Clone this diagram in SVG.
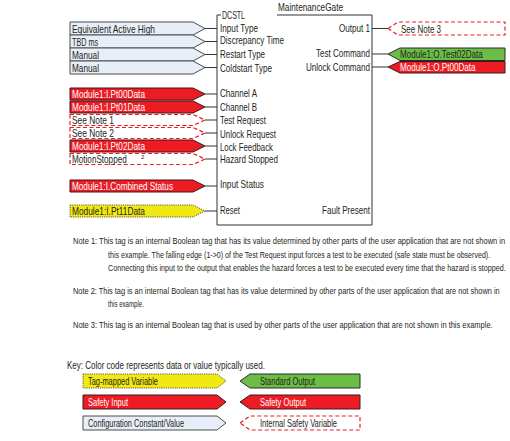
<svg xmlns="http://www.w3.org/2000/svg" width="510" height="441" viewBox="0 0 510 441">
<style>
text{font-family:"Liberation Sans",Arial,sans-serif;font-size:11px;fill:#231f20}
.w{fill:#fff}
.cfg{fill:#e8eef8;stroke:#4d4d4d;stroke-width:1}
.red{fill:#ed1c24;stroke:#3a1a1a;stroke-width:1}
.grn{fill:#6cbd45;stroke:#2b2b2b;stroke-width:1}
.yel{fill:#f2e813;stroke:#3a3a3a;stroke-width:0.8;stroke-dasharray:1.2 1}
.dsh{fill:#fff;stroke:#ed1c24;stroke-width:1.2;stroke-dasharray:4 2.5}
.ln{stroke:#333;stroke-width:1;fill:none}
.note{font-size:8.5px}
</style>
<g id="block">
  <polyline class="ln" points="221,15 217,15 217,225 372,225 372,15 277,15"/>
  <text x="222" y="19" textLength="23" lengthAdjust="spacingAndGlyphs">DCSTL</text>
  <text x="278" y="11" textLength="65" lengthAdjust="spacingAndGlyphs">MaintenanceGate</text>
  <text x="220" y="32" textLength="38" lengthAdjust="spacingAndGlyphs">Input Type</text>
  <text x="220" y="44" textLength="64" lengthAdjust="spacingAndGlyphs">Discrepancy Time</text>
  <text x="220" y="58" textLength="45" lengthAdjust="spacingAndGlyphs">Restart Type</text>
  <text x="220" y="72" textLength="52" lengthAdjust="spacingAndGlyphs">Coldstart Type</text>
  <text x="220" y="97" textLength="37" lengthAdjust="spacingAndGlyphs">Channel A</text>
  <text x="220" y="111" textLength="37" lengthAdjust="spacingAndGlyphs">Channel B</text>
  <text x="220" y="124" textLength="46" lengthAdjust="spacingAndGlyphs">Test Request</text>
  <text x="220" y="138" textLength="56" lengthAdjust="spacingAndGlyphs">Unlock Request</text>
  <text x="220" y="151" textLength="53" lengthAdjust="spacingAndGlyphs">Lock Feedback</text>
  <text x="220" y="163" textLength="58" lengthAdjust="spacingAndGlyphs">Hazard Stopped</text>
  <text x="220" y="188" textLength="44" lengthAdjust="spacingAndGlyphs">Input Status</text>
  <text x="220" y="214" textLength="20" lengthAdjust="spacingAndGlyphs">Reset</text>
  <text x="339" y="32" textLength="31" lengthAdjust="spacingAndGlyphs">Output 1</text>
  <text x="316" y="57" textLength="54" lengthAdjust="spacingAndGlyphs">Test Command</text>
  <text x="306" y="71" textLength="64" lengthAdjust="spacingAndGlyphs">Unlock Command</text>
  <text x="322" y="214" textLength="48" lengthAdjust="spacingAndGlyphs">Fault Present</text>
</g>
<g id="connectors">
  <path class="ln" d="M205,28.5H217M205,41.5H217M205,54.5H217M205,67.5H217M205,94H217M205,107H217M205,120H217M205,133H217M205,146H217M205,159H217M205,186H217M205,211H217M372,28.5H388M372,54H388M372,67H388"/>
</g>
<g id="tag-input-type">
  <polygon class="cfg" points="70,22 193,22 205,28.5 193,35 70,35"/>
  <text x="72" y="32.5" textLength="83" lengthAdjust="spacingAndGlyphs">Equivalent Active High</text>
</g>
<g id="tag-discrepancy">
  <polygon class="cfg" points="70,35 193,35 205,41.5 193,48 70,48"/>
  <text x="72" y="45.5" textLength="26" lengthAdjust="spacingAndGlyphs">TBD ms</text>
</g>
<g id="tag-restart">
  <polygon class="cfg" points="70,48 193,48 205,54.5 193,61 70,61"/>
  <text x="72" y="58.5" textLength="27" lengthAdjust="spacingAndGlyphs">Manual</text>
</g>
<g id="tag-coldstart">
  <polygon class="cfg" points="70,61 193,61 205,67.5 193,74 70,74"/>
  <text x="72" y="71.5" textLength="27" lengthAdjust="spacingAndGlyphs">Manual</text>
</g>
<g id="tag-channel-a">
  <polygon class="red" points="70,88 193,88 205,94 193,100 70,100"/>
  <text class="w" x="72" y="98" textLength="73" lengthAdjust="spacingAndGlyphs">Module1:I.Pt00Data</text>
</g>
<g id="tag-channel-b">
  <polygon class="red" points="70,101 193,101 205,107 193,113 70,113"/>
  <text class="w" x="72" y="111" textLength="73" lengthAdjust="spacingAndGlyphs">Module1:I.Pt01Data</text>
</g>
<g id="tag-test-request">
  <polygon class="dsh" points="70,114.5 193,114.5 205,120 193,125.5 70,125.5"/>
  <text x="72" y="124" textLength="42" lengthAdjust="spacingAndGlyphs">See Note 1</text>
</g>
<g id="tag-unlock-request">
  <polygon class="dsh" points="70,127.5 193,127.5 205,133 193,138.5 70,138.5"/>
  <text x="72" y="137" textLength="42" lengthAdjust="spacingAndGlyphs">See Note 2</text>
</g>
<g id="tag-lock-feedback">
  <polygon class="red" points="70,140 193,140 205,146 193,152 70,152"/>
  <text class="w" x="72" y="150" textLength="73" lengthAdjust="spacingAndGlyphs">Module1:I.Pt02Data</text>
</g>
<g id="tag-hazard-stopped">
  <polygon class="dsh" points="70,153.5 193,153.5 205,159 193,164.5 70,164.5"/>
  <text transform="translate(72,163) scale(0.72,1)" textLength="76" lengthAdjust="spacingAndGlyphs">MotionStopped</text>
  <text x="141" y="159" style="font-size:6px">2</text>
</g>
<g id="tag-input-status">
  <polygon class="red" points="70,180 193,180 205,186 193,192 70,192"/>
  <text class="w" x="72" y="190" textLength="101" lengthAdjust="spacingAndGlyphs">Module1:I.Combined Status</text>
</g>
<g id="tag-reset">
  <polygon class="yel" points="70,205 193,205 205,211 193,217 70,217"/>
  <text x="72" y="215" textLength="73" lengthAdjust="spacingAndGlyphs">Module1:I.Pt11Data</text>
</g>
<g id="tag-output1">
  <polygon class="dsh" points="388,28.5 398,22 505,22 505,35 398,35"/>
  <text x="401" y="32.5" textLength="40" lengthAdjust="spacingAndGlyphs">See Note 3</text>
</g>
<g id="tag-test-command">
  <polygon class="grn" points="388,54 400,48 505,48 505,60.5 400,60.5"/>
  <text transform="translate(400,58) scale(0.72,1)" textLength="115" lengthAdjust="spacingAndGlyphs">Module1:O.Test02Data</text>
</g>
<g id="tag-unlock-command">
  <polygon class="red" points="388,67 400,61.5 505,61.5 505,73 400,73"/>
  <text class="w" transform="translate(400,71) scale(0.72,1)" textLength="105" lengthAdjust="spacingAndGlyphs">Module1:O.Pt00Data</text>
</g>
<g id="notes">
  <text class="note" transform="translate(73,244) scale(0.78,1)" textLength="554" lengthAdjust="spacingAndGlyphs">Note 1: This tag is an internal Boolean tag that has its value determined by other parts of the user application that are not shown in</text>
  <text class="note" transform="translate(108,258) scale(0.78,1)" textLength="490" lengthAdjust="spacingAndGlyphs">this example. The falling edge  (1-&gt;0)  of the Test Request input forces a test to be executed (safe state must be observed).</text>
  <text class="note" transform="translate(108,271) scale(0.78,1)" textLength="510" lengthAdjust="spacingAndGlyphs">Connecting this input to the output that enables the hazard forces a test to be executed every time that the hazard is stopped.</text>
  <text class="note" transform="translate(73,294) scale(0.78,1)" textLength="547" lengthAdjust="spacingAndGlyphs">Note 2: This tag is an internal Boolean tag that has its value determined by other parts of the user application that are not shown in</text>
  <text class="note" transform="translate(108,307) scale(0.78,1)" textLength="46" lengthAdjust="spacingAndGlyphs">this example.</text>
  <text class="note" transform="translate(73,328) scale(0.78,1)" textLength="538" lengthAdjust="spacingAndGlyphs">Note 3: This tag is an internal Boolean tag that is used by other parts of the user application that are not shown in this example.</text>
</g>
<g id="key">
  <text x="67" y="369" textLength="198" lengthAdjust="spacingAndGlyphs">Key: Color code represents data or value typically used.</text>
  <g id="key-tag-mapped">
    <polygon class="yel" points="83,374 217,374 226,381 217,388 83,388"/>
    <text x="88" y="385" textLength="70" lengthAdjust="spacingAndGlyphs">Tag-mapped Variable</text>
  </g>
  <g id="key-safety-input">
    <polygon class="red" points="83,395 217,395 226,402 217,409 83,409"/>
    <text class="w" x="88" y="406" textLength="40" lengthAdjust="spacingAndGlyphs">Safety Input</text>
  </g>
  <g id="key-config">
    <polygon class="cfg" points="83,416 217,416 226,423 217,430 83,430"/>
    <text x="88" y="427" textLength="96" lengthAdjust="spacingAndGlyphs">Configuration Constant/Value</text>
  </g>
  <g id="key-standard-output">
    <polygon class="grn" points="240,381 250,374 360,374 360,388 250,388"/>
    <text x="260" y="385" textLength="55" lengthAdjust="spacingAndGlyphs">Standard Output</text>
  </g>
  <g id="key-safety-output">
    <polygon class="red" points="240,402 250,395 360,395 360,409 250,409"/>
    <text class="w" x="260" y="406" textLength="46" lengthAdjust="spacingAndGlyphs">Safety Output</text>
  </g>
  <g id="key-internal">
    <polygon class="dsh" points="240,423 250,416 360,416 360,430 250,430"/>
    <text x="260" y="427" textLength="77" lengthAdjust="spacingAndGlyphs">Internal Safety Variable</text>
  </g>
</g>
</svg>
